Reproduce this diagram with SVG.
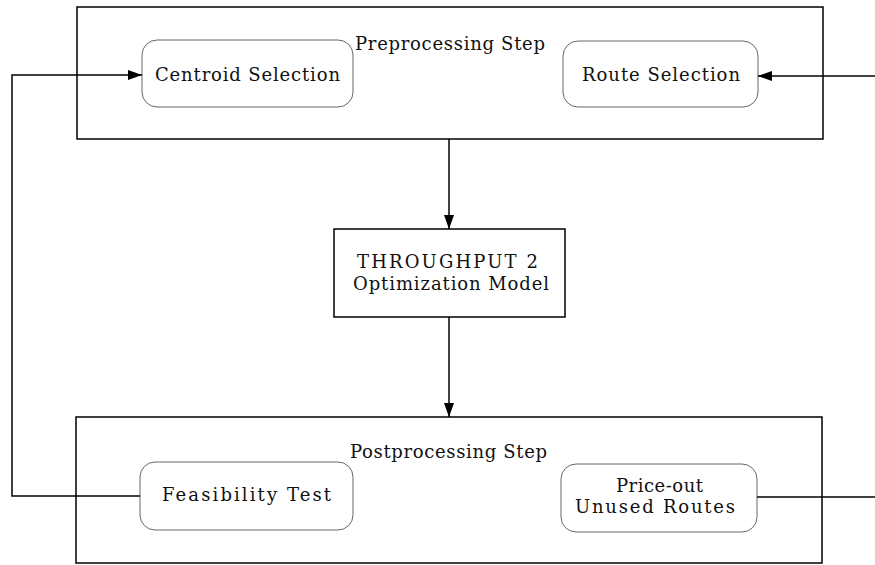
<svg xmlns="http://www.w3.org/2000/svg" width="875" height="565" viewBox="0 0 875 565">
  <defs>
    <marker id="arr" viewBox="0 0 14 10" refX="14" refY="5" markerWidth="14" markerHeight="10" markerUnits="userSpaceOnUse" orient="auto">
      <path d="M0,0 L14,5 L0,10 Z" fill="#000"/>
    </marker>
    <style>
      .outer { fill: none; stroke: #000; stroke-width: 1.5; }
      .node { fill: #fff; stroke: #666; stroke-width: 1; }
      .box { fill: #fff; stroke: #000; stroke-width: 1.5; }
      .t { font-family: "DejaVu Serif", "Liberation Serif", serif; font-size: 18px; fill: #111; }
      .conn { fill: none; stroke: #000; stroke-width: 1.5; }
    </style>
  </defs>
  <rect width="875" height="565" fill="#fff"/>

  <g id="preprocessing">
    <rect class="outer" x="77" y="7" width="746" height="132"/>
    <text class="t" x="355" y="50" textLength="190" lengthAdjust="spacing">Preprocessing Step</text>
  </g>
  <g id="centroid-selection">
    <rect class="node" x="142" y="40" width="211" height="67" rx="15" ry="15"/>
    <text class="t" x="155" y="81" textLength="185" lengthAdjust="spacing">Centroid Selection</text>
  </g>
  <g id="route-selection">
    <rect class="node" x="563" y="41" width="195" height="66" rx="15" ry="15"/>
    <text class="t" x="582" y="81" textLength="158" lengthAdjust="spacing">Route Selection</text>
  </g>

  <g id="throughput">
    <rect class="box" x="334" y="229" width="231" height="88"/>
    <text class="t" x="357" y="268" textLength="181" lengthAdjust="spacing">THROUGHPUT 2</text>
    <text class="t" x="353" y="290" textLength="196" lengthAdjust="spacing">Optimization Model</text>
  </g>

  <g id="postprocessing">
    <rect class="outer" x="76" y="417" width="746" height="146"/>
    <text class="t" x="350" y="458" textLength="197" lengthAdjust="spacing">Postprocessing Step</text>
  </g>
  <g id="feasibility-test">
    <rect class="node" x="140" y="462" width="213" height="68" rx="15" ry="15"/>
    <text class="t" x="162" y="501" textLength="169" lengthAdjust="spacing">Feasibility Test</text>
  </g>
  <g id="price-out">
    <rect class="node" x="561" y="464" width="196" height="68" rx="15" ry="15"/>
    <text class="t" x="616" y="492" textLength="87" lengthAdjust="spacing">Price-out</text>
    <text class="t" x="575" y="513" textLength="160" lengthAdjust="spacing">Unused Routes</text>
  </g>

  <g id="connectors">
    <path class="conn" d="M140,496 L12,496 L12,75 L142,75" marker-end="url(#arr)"/>
    <path class="conn" d="M875,76 L758,76" marker-end="url(#arr)"/>
    <path class="conn" d="M449,139 L449,229" marker-end="url(#arr)"/>
    <path class="conn" d="M449,317 L449,417" marker-end="url(#arr)"/>
    <path class="conn" d="M757,497 L875,497"/>
  </g>
</svg>
